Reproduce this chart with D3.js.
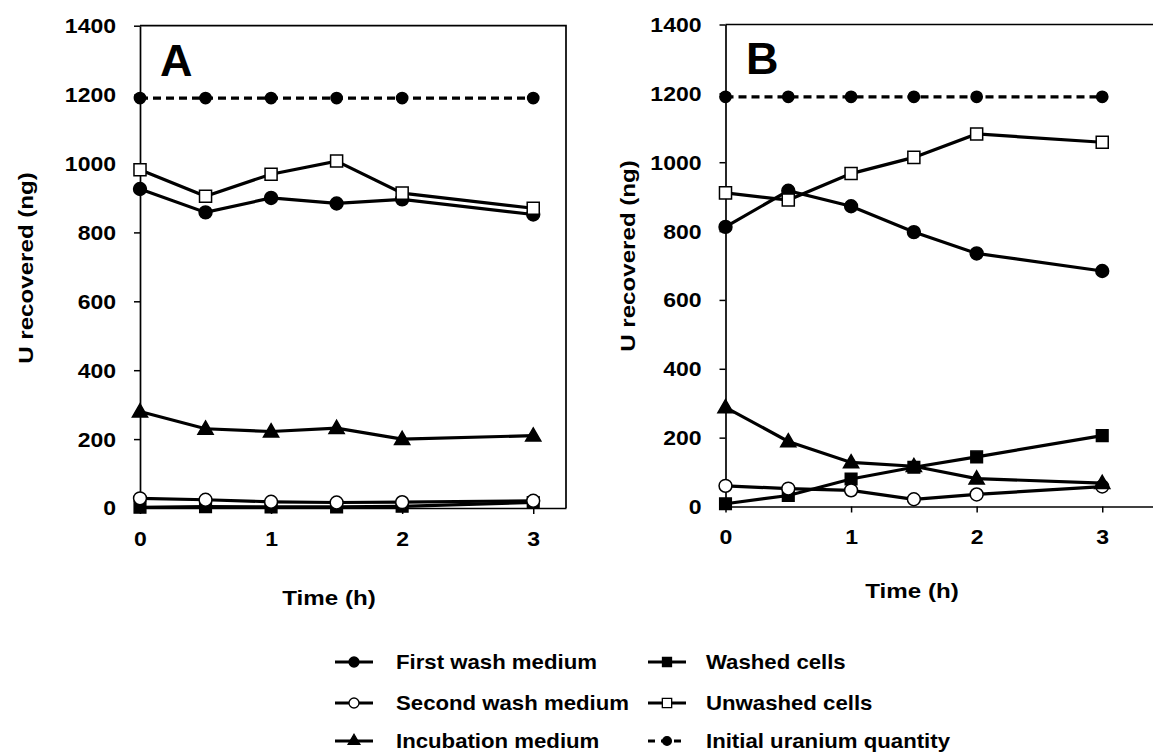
<!DOCTYPE html>
<html>
<head>
<meta charset="utf-8">
<script src="https://cdn.jsdelivr.net/npm/d3@7"></script>
<style>
  body { margin: 0; background: #fff; }
  svg text { font-family: Arial, "Liberation Sans", sans-serif; font-weight: bold; fill: #000; }
</style>
</head>
<body>
<div id="chart"></div>
<script>
const width = 1153, height = 752;

// data
const times = [0, 0.5, 1, 1.5, 2, 3];
const xTicks = [0, 1, 2, 3];
const yTicks = [0, 200, 400, 600, 800, 1000, 1200, 1400];

const firstWashA  = [926, 858, 900, 884, 896, 852];
const secondWashA = [28, 24, 18, 16, 17, 21];
const incubationA = [280, 230, 222, 232, 200, 210];
const washedA     = [2, 4, 3, 3, 5, 16];
const unwashedA   = [982, 905, 969, 1007, 914, 870];
const initialA    = [1190, 1190, 1190, 1190, 1190, 1190];

const firstWashB  = [812, 917, 872, 797, 735, 684];
const secondWashB = [60, 52, 47, 21, 35, 58];
const incubationB = [288, 189, 128, 117, 81, 68];
const washedB     = [8, 32, 80, 114, 144, 206];
const unwashedB   = [911, 890, 967, 1014, 1082, 1058];
const initialB    = [1190, 1190, 1190, 1190, 1190, 1190];

const seriesNames = ["First wash medium", "Second wash medium", "Incubation medium",
                     "Washed cells", "Unwashed cells", "Initial uranium quantity"];

const SX = 1.15; // the figure's font is a bit wider than Arial

const svg = d3.select("#chart").append("svg")
  .attr("width", width)
  .attr("height", height)
  .attr("viewBox", [0, 0, width, height]);

// marker style per series
const styles = {
  "First wash medium":        { shape: d3.symbolCircle,   size: 130, fill: "#000", dash: null },
  "Second wash medium":       { shape: d3.symbolCircle,   size: 130, fill: "#fff", dash: null },
  "Incubation medium":        { shape: d3.symbolTriangle, size: 100, fill: "#000", dash: null },
  "Washed cells":             { shape: d3.symbolSquare,   size: 135, fill: "#000", dash: null },
  "Unwashed cells":           { shape: d3.symbolSquare,   size: 145, fill: "#fff", dash: null },
  "Initial uranium quantity": { shape: d3.symbolCircle,   size: 100, fill: "#000", dash: "8,5" }
};

const panels = [
  { label: "A", left: 140, right: 566, xMax: 3.25, top: 25.7, bottom: 508,
    frameRight: true, labelX: 160, labelY: 76, titleX: 26, titleY: 268, timeX: 329, timeY: 598,
    series: [washedA, secondWashA, incubationA, firstWashA, unwashedA, initialA] },
  { label: "B", left: 725.5, right: 1160, xMax: 3.46, top: 24.5, bottom: 506.5,
    frameRight: false, labelX: 746, labelY: 74, titleX: 628, titleY: 256, timeX: 912, timeY: 591,
    series: [washedB, secondWashB, incubationB, firstWashB, unwashedB, initialB] }
];
const order = ["Washed cells", "Second wash medium", "Incubation medium",
               "First wash medium", "Unwashed cells", "Initial uranium quantity"];

for (let p of panels) {
  let x = d3.scaleLinear().domain([0, p.xMax]).range([p.left, p.right]);
  let y = d3.scaleLinear().domain([0, 1400]).range([p.bottom, p.top]);
  let g = svg.append("g");

  // frame (top + right)
  g.append("path")
    .attr("d", p.frameRight
      ? `M${p.left},${p.top}H${p.right}V${p.bottom}`
      : `M${p.left},${p.top}H${p.right}`)
    .attr("fill", "none").attr("stroke", "#000").attr("stroke-width", 1.7);

  let yAxis = g.append("g")
    .attr("transform", `translate(${p.left},0)`)
    .call(d3.axisLeft(y).tickValues(yTicks).tickFormat(d3.format("d")).tickSize(6).tickSizeOuter(0));
  let xAxis = g.append("g")
    .attr("transform", `translate(0,${p.bottom})`)
    .call(d3.axisBottom(x).tickValues(xTicks).tickFormat(d3.format("d")).tickSize(6).tickSizeOuter(0));

  for (let ax of [yAxis, xAxis]) {
    ax.select(".domain").attr("stroke-width", 1.7);
    ax.selectAll(".tick line").attr("stroke-width", 1.5);
    ax.selectAll("text").style("font-size", "20px").attr("dy", null)
      .attr("dominant-baseline", "central");
  }
  yAxis.selectAll("text").attr("x", 0)
    .attr("transform", `translate(-24,0) scale(${SX},1)`);
  xAxis.selectAll("text").attr("y", 0)
    .attr("transform", `translate(0,31) scale(${SX},1)`);

  // panel letter
  g.append("text").text(p.label)
    .attr("x", p.labelX).attr("y", p.labelY)
    .style("font-size", "45px");

  // axis titles
  g.append("text").text("U recovered (ng)")
    .attr("transform", `translate(${p.titleX},${p.titleY}) rotate(-90) scale(${SX},1)`)
    .attr("text-anchor", "middle").attr("dominant-baseline", "central")
    .style("font-size", "21px");
  g.append("text").text("Time (h)")
    .attr("transform", `translate(${p.timeX},${p.timeY}) scale(${SX},1)`)
    .attr("text-anchor", "middle").attr("dominant-baseline", "central")
    .style("font-size", "21px");

  let line = d3.line().x(d => x(d.t)).y(d => y(d.v));

  order.forEach((name, i) => {
    let st = styles[name];
    let pts = times.map((t, j) => ({ t: t, v: p.series[i][j] }));
    g.append("path")
      .datum(pts)
      .attr("fill", "none")
      .attr("stroke", "#000")
      .attr("stroke-width", 3.2)
      .attr("stroke-dasharray", st.dash)
      .attr("d", line);
    g.append("g").selectAll("path")
      .data(pts)
      .join("path")
      .attr("transform", d => `translate(${x(d.t)},${y(d.v) + (st.shape === d3.symbolTriangle ? 1 : 0)})`)
      .attr("d", d3.symbol(st.shape, st.size))
      .attr("fill", st.fill)
      .attr("stroke", "#000")
      .attr("stroke-width", 1.5);
  });
}

// legend, two columns of three
const legendCols = [{ x: 335, tx: 396 }, { x: 648, tx: 706 }];
const legendRows = [662, 703, 741];
seriesNames.forEach((name, i) => {
  let st = styles[name];
  let col = legendCols[Math.floor(i / 3)];
  let ly = legendRows[i % 3];
  let lg = svg.append("g");
  lg.append("line")
    .attr("x1", col.x).attr("x2", col.x + 38)
    .attr("y1", ly).attr("y2", ly)
    .attr("stroke", "#000").attr("stroke-width", 3)
    .attr("stroke-dasharray", st.dash ? "7,6" : null);
  lg.append("path")
    .attr("transform", `translate(${col.x + 19},${ly})`)
    .attr("d", d3.symbol(st.shape, st.size * 0.6))
    .attr("fill", st.fill).attr("stroke", "#000").attr("stroke-width", 1.3);
  lg.append("text").text(name)
    .attr("transform", `translate(${col.tx},${ly}) scale(1.11,1)`)
    .attr("dominant-baseline", "central")
    .style("font-size", "20px");
});
</script>
</body>
</html>
